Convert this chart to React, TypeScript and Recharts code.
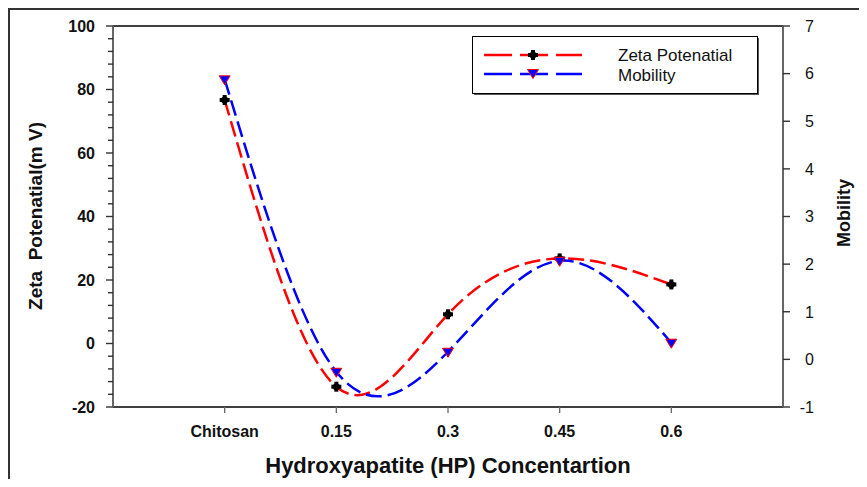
import React from 'react';
import { LineChart, Line, XAxis, YAxis, ReferenceLine, Legend, Label } from 'recharts';

const categories = ['Chitosan', '0.15', '0.3', '0.45', '0.6'];
const zetaValues = [76.7, -13.6, 9.2, 26.8, 18.6];
const mobilityValues = [5.88, -0.26, 0.16, 2.07, 0.35];
const xTicks = [1, 2, 3, 4, 5];
const zetaTicks = [-20, -16, -12, -8, -4, 0, 4, 8, 12, 16, 20, 24, 28, 32, 36, 40, 44, 48, 52, 56, 60, 64, 68, 72, 76, 80, 84, 88, 92, 96, 100];
const mobilityTicks = [-1, 0, 1, 2, 3, 4, 5, 6, 7];

const data = categories.map((c, i) => ({
  x: i + 1,
  name: c,
  zeta: zetaValues[i],
  mobility: mobilityValues[i],
}));

const FONT = 'Arial, "Liberation Sans", sans-serif';

const LeftTick = (props: any) => {
  const { x, y, payload } = props;
  const major = payload.value % 20 === 0;
  return (
    <g>
      <line x1={x - (major ? 7 : 5)} x2={x} y1={y} y2={y} stroke="#333" strokeWidth={1.4} />
      {major && (
        <text x={x - 18} y={y} dy="0.36em" textAnchor="end" fontFamily={FONT} fontWeight="bold" fontSize={16} fill="#111">
          {payload.value}
        </text>
      )}
    </g>
  );
};

const RightTick = (props: any) => {
  const { x, y, payload } = props;
  return (
    <g>
      <line x1={x} x2={x + 7} y1={y} y2={y} stroke="#333" strokeWidth={1.4} />
      <text x={x + 31} y={y} dy="0.36em" textAnchor="end" fontFamily={FONT} fontSize={16} fill="#111">
        {payload.value}
      </text>
    </g>
  );
};

const BottomTick = (props: any) => {
  const { x, y, payload } = props;
  return (
    <g>
      <line x1={x} x2={x} y1={y} y2={y + 6} stroke="#666" strokeWidth={1.3} />
      <text x={x} y={y + 30} textAnchor="middle" fontFamily={FONT} fontWeight="bold" fontSize={16} fill="#111">
        {categories[payload.value - 1]}
      </text>
    </g>
  );
};

const ZetaDot = (props: any) => {
  const { cx, cy } = props;
  if (cx == null || cy == null) return null;
  return (
    <g fill="#000">
      <circle cx={cx} cy={cy} r={3.5} />
      <rect x={cx - 5} y={cy - 2} width={10} height={4} />
      <rect x={cx - 2} y={cy - 5} width={4} height={10} />
    </g>
  );
};

const MobilityDot = (props: any) => {
  const { cx, cy } = props;
  if (cx == null || cy == null) return null;
  return (
    <path
      d={`M${cx - 5.5},${cy - 3.5} L${cx + 5.5},${cy - 3.5} L${cx},${cy + 5.5} Z`}
      fill="#0000ff"
      stroke="#ff0000"
      strokeWidth={1}
    />
  );
};

const LegendBox = () => (
  <svg width={290} height={62} style={{ display: 'block' }}>
    <rect x={2} y={2} width={285} height={57} fill="#555" />
    <rect x={0.5} y={0.5} width={285} height={57} fill="#fff" stroke="#000" strokeWidth={1} />
    <line x1={12} x2={110} y1={19} y2={19} stroke="#ff0000" strokeWidth={2.5} strokeDasharray="28 8" />
    <ZetaDot cx={61} cy={19} />
    <text x={146} y={19} dy="0.36em" fontFamily={FONT} fontSize={17} fill="#111">Zeta Potenatial</text>
    <line x1={12} x2={110} y1={38} y2={38} stroke="#0000ff" strokeWidth={2.5} strokeDasharray="28 8" />
    <MobilityDot cx={61} cy={37} />
    <text x={146} y={39} dy="0.36em" fontFamily={FONT} fontSize={17} fill="#111">Mobility</text>
  </svg>
);

export default function App() {
  return (
    <div
      style={{
        width: 855,
        height: 469,
        borderLeft: '2px solid #333',
        borderTop: '2px solid #333',
        background: '#fff',
      }}
    >
      <LineChart width={855} height={469} data={data} margin={{ top: 16, right: 0, bottom: 0, left: 0 }}>
        <XAxis
          type="number"
          dataKey="x"
          domain={[0, 6]}
          ticks={xTicks}
          interval={0}
          tickSize={0}
          tickMargin={0}
          tick={<BottomTick />}
          height={72}
          axisLine={{ stroke: '#000', strokeWidth: 1.5 }}
          tickLine={false}
        >
          <Label
            value="Hydroxyapatite (HP) Concentartion"
            position="insideBottom"
            offset={6}
            style={{ fontFamily: FONT, fontWeight: 'bold', fontSize: 22, fill: '#111' }}
          />
        </XAxis>
        <YAxis
          yAxisId="left"
          domain={[-20, 100]}
          ticks={zetaTicks}
          interval={0}
          tickSize={0}
          tickMargin={0}
          tick={<LeftTick />}
          width={103}
          axisLine={{ stroke: '#666', strokeWidth: 2 }}
          tickLine={false}
        >
          <Label
            content={() => (
              <text
                x={25}
                y={206}
                transform="rotate(-90 25 206)"
                textAnchor="middle"
                dominantBaseline="central"
                fontFamily={FONT}
                fontWeight="bold"
                fontSize={19}
                fill="#111"
                style={{ whiteSpace: 'pre' }}
              >
                {'Zeta  Potenatial(m V)'}
              </text>
            )}
          />
        </YAxis>
        <YAxis
          yAxisId="right"
          orientation="right"
          domain={[-1, 7]}
          ticks={mobilityTicks}
          interval={0}
          tickSize={0}
          tickMargin={0}
          tick={<RightTick />}
          width={82}
          axisLine={{ stroke: '#666', strokeWidth: 2 }}
          tickLine={false}
        >
          <Label
            content={() => (
              <text
                x={834}
                y={203}
                transform="rotate(-90 834 203)"
                textAnchor="middle"
                dominantBaseline="central"
                fontFamily={FONT}
                fontWeight="bold"
                fontSize={18}
                fill="#111"
              >
                Mobility
              </text>
            )}
          />
        </YAxis>
        <ReferenceLine yAxisId="left" y={100} stroke="#000" strokeWidth={1.5} />
        <Line
          yAxisId="left"
          type="natural"
          dataKey="zeta"
          stroke="#ff0000"
          strokeWidth={2.5}
          strokeDasharray="16 6"
          dot={<ZetaDot />}
          activeDot={false}
          isAnimationActive={false}
        />
        <Line
          yAxisId="right"
          type="natural"
          dataKey="mobility"
          stroke="#0000ff"
          strokeWidth={2.5}
          strokeDasharray="16 6"
          dot={<MobilityDot />}
          activeDot={false}
          isAnimationActive={false}
        />
        <Legend
          layout="horizontal"
          verticalAlign="middle"
          align="center"
          content={() => <LegendBox />}
          wrapperStyle={{ left: 462, top: 26, width: 290, height: 62 }}
        />
      </LineChart>
    </div>
  );
}
